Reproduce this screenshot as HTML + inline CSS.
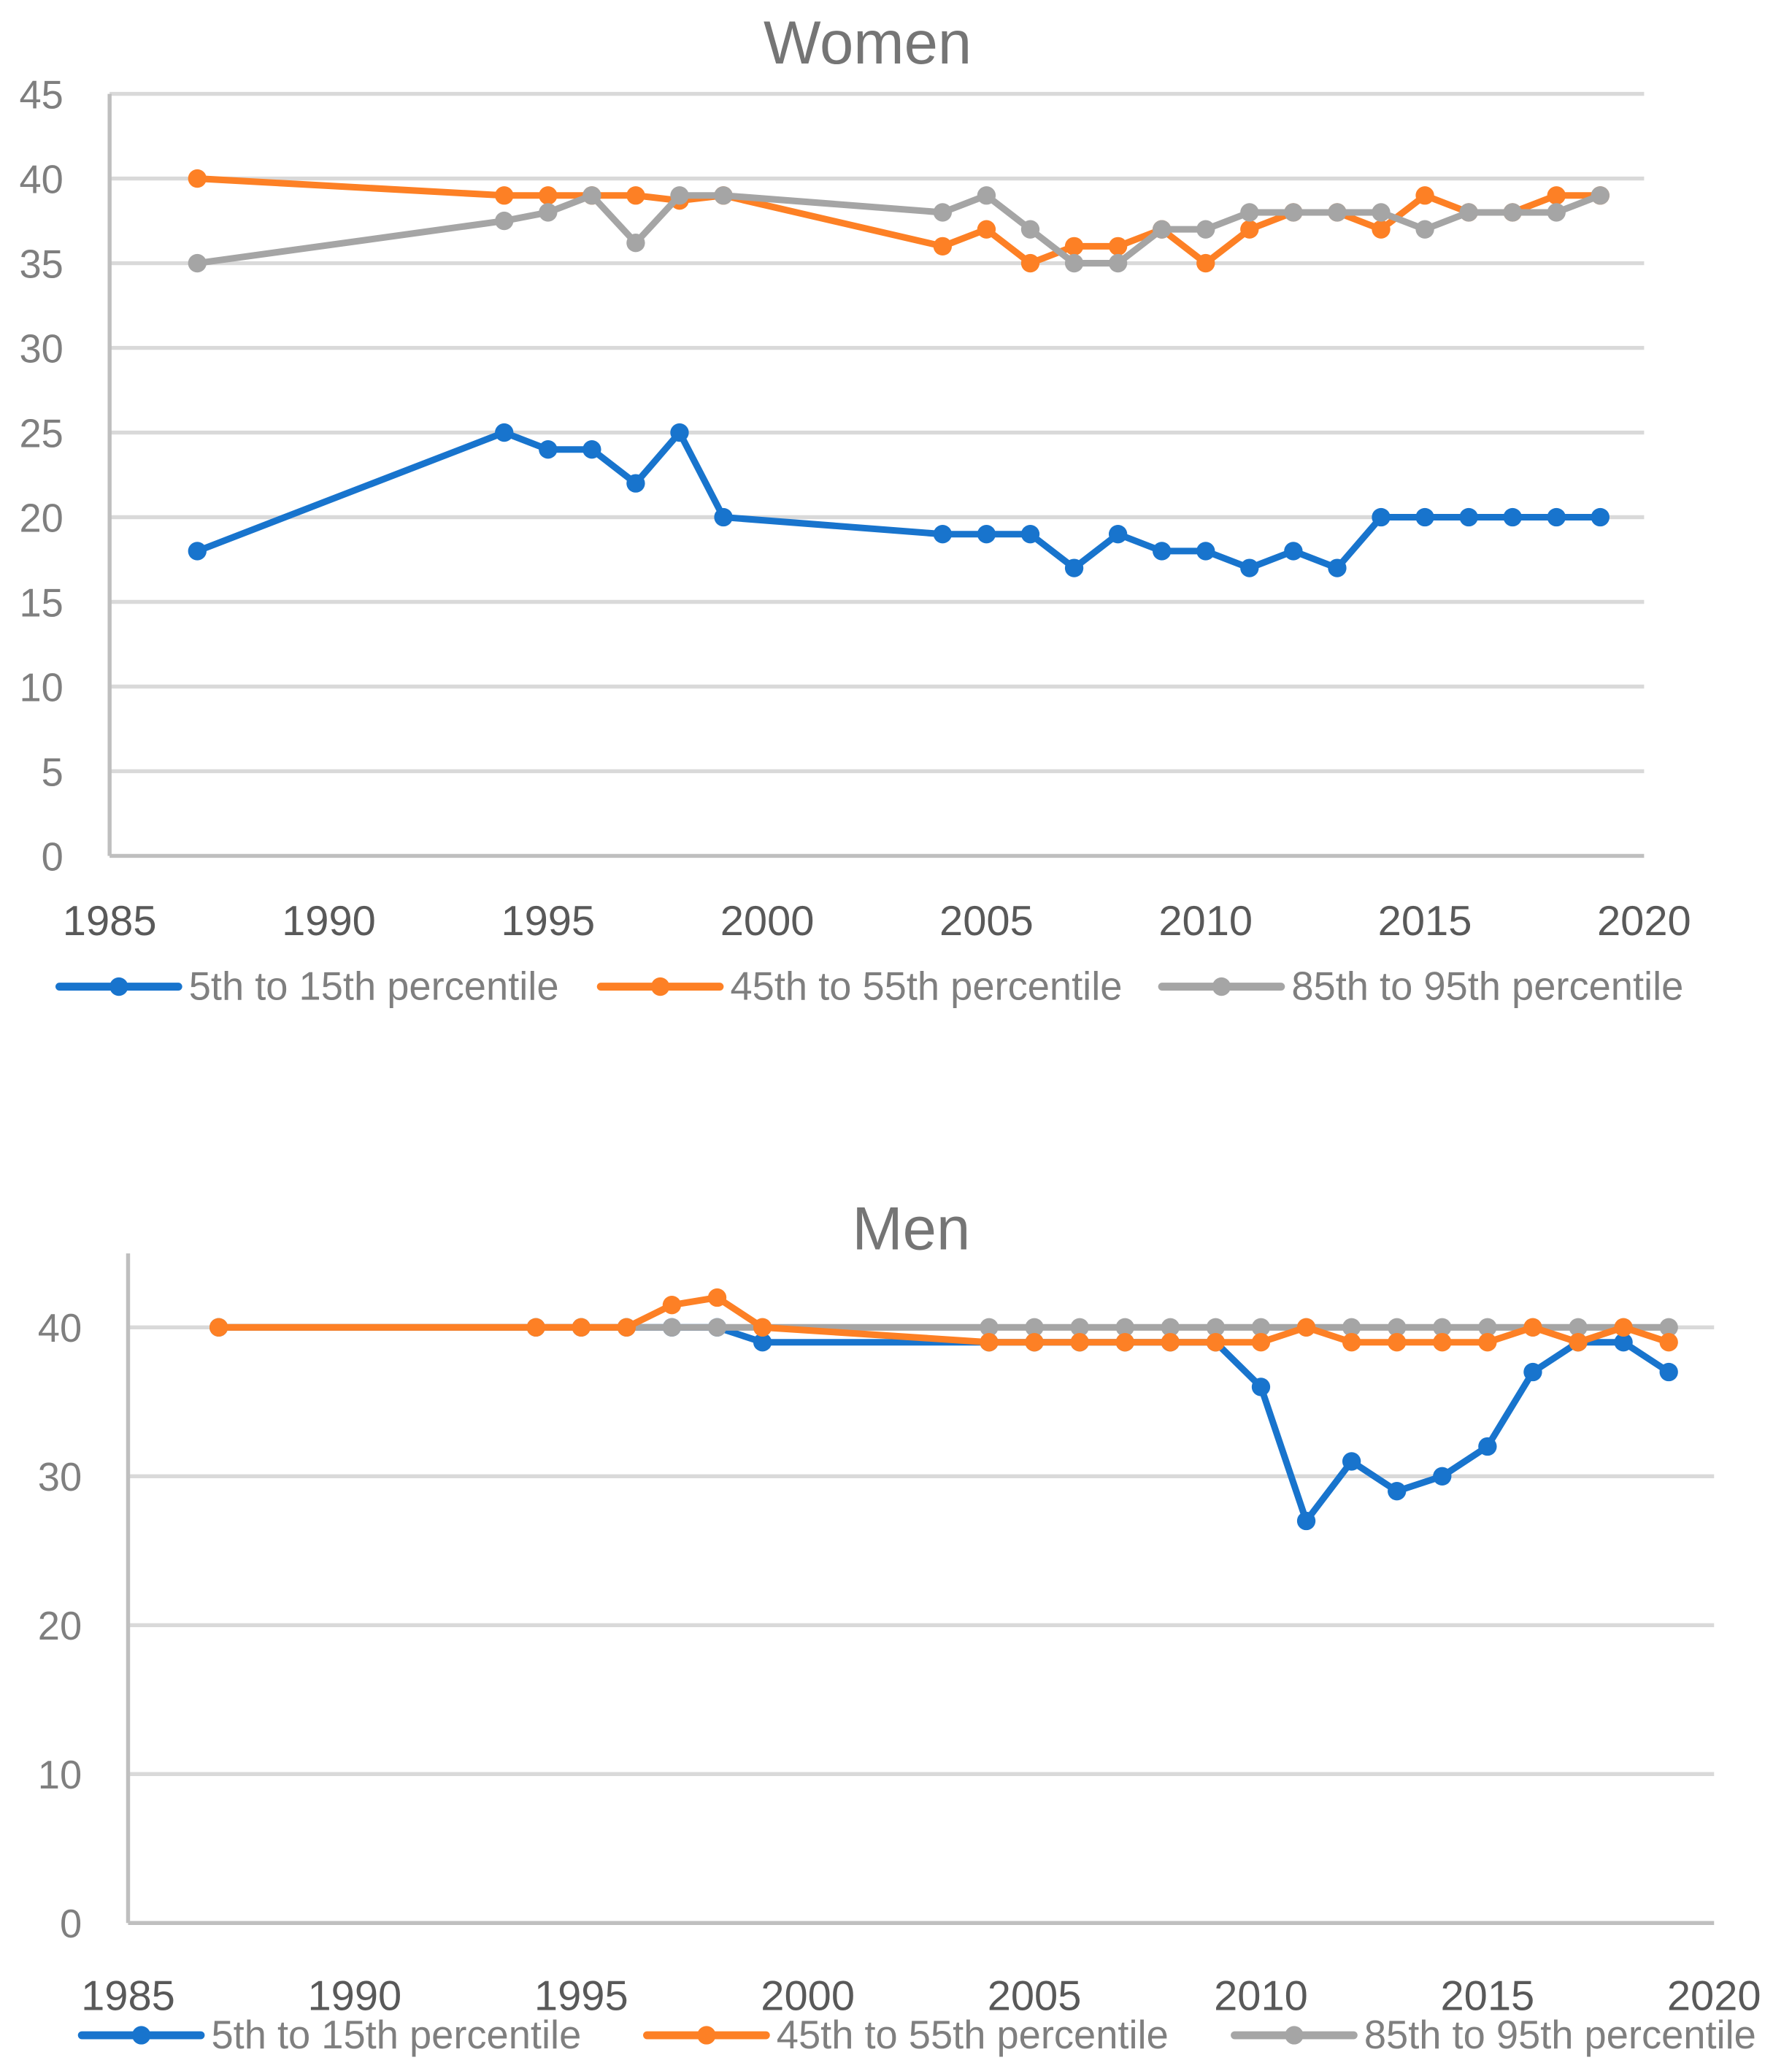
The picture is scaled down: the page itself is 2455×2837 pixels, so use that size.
<!DOCTYPE html>
<html><head><meta charset="utf-8"><style>
html,body{margin:0;padding:0;background:#fff}
svg{display:block}
text{font-family:"Liberation Sans",sans-serif}
</style></head><body>
<svg id="s" width="2455" height="2837" viewBox="0 0 1357 1568" xmlns="http://www.w3.org/2000/svg"></svg>
<script>
const wYears=[1987,1994,1995,1996,1997,1998,1999,2004,2005,2006,2007,2008,2009,2010,2011,2012,2013,2014,2015,2016,2017,2018,2019];
const wBlue=[18,25,24,24,22,25,20,19,19,19,17,19,18,18,17,18,17,20,20,20,20,20,20];
const wOrange=[40,39,39,39,39,38.7,39,36,37,35,36,36,37,35,37,38,38,37,39,38,38,39,39];
const wGray=[35,37.5,38,39,36.2,39,39,38,39,37,35,35,37,37,38,38,38,38,37,38,38,38,39];
const mYears=[1987,1994,1995,1996,1997,1998,1999,2004,2005,2006,2007,2008,2009,2010,2011,2012,2013,2014,2015,2016,2017,2018,2019];
const mBlue=[40,40,40,40,40,40,39,39,39,39,39,39,39,36,27,31,29,30,32,37,39,39,37];
const mOrange=[40,40,40,40,41.5,42,40,39,39,39,39,39,39,39,40,39,39,39,39,40,39,40,39];
const mGray=[40,40,40,40,40,40,40,40,40,40,40,40,40,40,40,40,40,40,40,40,40,40,40];
const wYTicks=[0,5,10,15,20,25,30,35,40,45];
const mYTicks=[0,10,20,30,40];
const xTicks=[1985,1990,1995,2000,2005,2010,2015,2020];
const seriesNames=["5th to 15th percentile","45th to 55th percentile","85th to 95th percentile"];
const colors=["#1874cd","#fd8025","#a5a5a5"];
const NS="http://www.w3.org/2000/svg";
const svg=document.getElementById('s');
function el(tag,attrs,parent){const e=document.createElementNS(NS,tag);for(const k in attrs)e.setAttribute(k,attrs[k]);(parent||svg).appendChild(e);return e;}

function chart(cfg){
  const g=el('g',{});
  
  
  const xs=v=>cfg.x0+(v-1985)/35*(cfg.x1-cfg.x0);
  const ys=v=>cfg.y0-(v/cfg.ymax)*(cfg.y0-cfg.ytop);
  const t=el('text',{x:cfg.titleX,y:cfg.titleY,'font-size':46,fill:'#757575','text-anchor':'middle'},g);
  t.textContent=cfg.title;
  
  
  cfg.yTicks.forEach(v=>{
    if(v>0){const l=el('line',{x1:cfg.x0,x2:cfg.x1,y1:ys(v),y2:ys(v),stroke:'#d9d9d9','stroke-width':3},g);
      
      }
    const tx=el('text',{x:cfg.ylabX,y:ys(v)+11,'font-size':30,fill:'#7f7f7f','text-anchor':'end'},g);
    tx.textContent=v;
    
    
  });
  const xa=el('line',{x1:cfg.x0,x2:cfg.x1,y1:cfg.y0,y2:cfg.y0,stroke:'#bfbfbf','stroke-width':3},g);
  
  
  const ya=el('line',{x1:cfg.x0,x2:cfg.x0,y1:cfg.y0,y2:cfg.ytop-(cfg.yaxExtra||0),stroke:'#bfbfbf','stroke-width':3},g);
  
  
  xTicks.forEach(v=>{
    const tx=el('text',{x:xs(v),y:cfg.xlabY,'font-size':32,fill:'#595959','text-anchor':'middle'},g);
    tx.textContent=v;
    
    
  });
  cfg.order.forEach(i=>{
    const vals=cfg.series[i];
    const pts=vals.map((v,j)=>xs(cfg.years[j])+','+ys(v)).join(' ');
    const pl=el('polyline',{points:pts,fill:'none',stroke:colors[i],'stroke-width':5,'stroke-linejoin':'round'},g);
    
    
    vals.forEach((v,j)=>{
      const c=el('circle',{cx:xs(cfg.years[j]),cy:ys(v),r:7,fill:colors[i]},g);
      
      
    });
  });
  cfg.legend.forEach((lx,i)=>{
    const lg=el('g',{},g);
    
    
    el('line',{x1:lx,x2:lx+90,y1:cfg.legY,y2:cfg.legY,stroke:colors[i],'stroke-width':6,'stroke-linecap':'round'},lg);
    el('circle',{cx:lx+45,cy:cfg.legY,r:7,fill:colors[i]},lg);
    const tx=el('text',{x:lx+98,y:cfg.legY+10,'font-size':30,fill:'#7f7f7f'},lg);
    tx.textContent=seriesNames[i];
  });
}
chart({name:'women',title:'Women',titleX:657,titleY:48,x0:83,x1:1245,y0:648,ytop:71,ymax:45,ylabX:48,xlabY:708,
  yTicks:wYTicks,years:wYears,series:[wBlue,wOrange,wGray],order:[0,1,2],legend:[45,455,880],legY:747});
chart({name:'men',title:'Men',titleX:690,titleY:946,x0:97,x1:1298,y0:1456,ytop:1005,ymax:40,ylabX:62,xlabY:1522,yaxExtra:56,
  yTicks:mYTicks,years:mYears,series:[mBlue,mOrange,mGray],order:[0,2,1],legend:[62,490,935],legY:1541});
</script>
</body></html>
